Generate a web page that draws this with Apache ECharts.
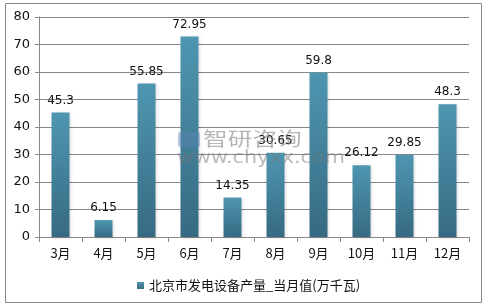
<!DOCTYPE html>
<html><head><meta charset="utf-8">
<script src="https://cdn.jsdelivr.net/npm/echarts@6/dist/echarts.min.js"></script>
<style>html,body{margin:0;padding:0;background:#fff}#c{width:492px;height:307px}</style>
</head><body><div id="c"></div>
<script>
var categories = ['3月','4月','5月','6月','7月','8月','9月','10月','11月','12月'];
var values = [45.3, 6.15, 55.85, 72.95, 14.35, 30.65, 59.8, 26.12, 29.85, 48.3];
var seriesName = '北京市发电设备产量_当月值(万千瓦)';
var yTicks = [0, 10, 20, 30, 40, 50, 60, 70, 80];

var chart = echarts.init(document.getElementById('c'));
var font = '"Microsoft YaHei","Noto Sans CJK SC",sans-serif';
chart.setOption({
  animation: false,
  backgroundColor: '#fff',
  graphic: [
    {type:'rect', shape:{x:5.5,y:3.5,width:476,height:299}, style:{fill:'none',stroke:'#888',lineWidth:1}, z:-1},
    {type:'rect', shape:{x:178,y:132,width:22,height:15,r:2}, style:{fill:'rgba(90,130,180,0.45)'}, z:10},
    {type:'text', x:203, y:129, scaleX:1.3, style:{text:'智研咨询', font:'19px "Noto Sans CJK SC"', fill:'rgba(120,120,120,0.55)'}, z:10},
    {type:'text', x:177, y:150, scaleX:1.22, style:{text:'www.chyxx.com', font:'17px "DejaVu Sans"', fill:'rgba(120,120,120,0.5)'}, z:10}
  ],
  legend: {
    data: [seriesName],
    left: 132, top: 274,
    itemWidth: 7, itemHeight: 7, itemGap: 4,
    icon: 'rect',
    textStyle: {fontSize: 13, color: '#111', fontFamily: font}
  },
  grid: {left: 39, right: 23, top: 17, bottom: 70},
  xAxis: {
    type: 'category', data: categories,
    axisLine: {lineStyle: {color: '#888'}},
    axisTick: {show: true, length: 5, lineStyle: {color: '#888'}},
    axisLabel: {fontSize: 13, color: '#111', margin: 10, fontFamily: font}
  },
  yAxis: {
    type: 'value', min: 0, max: 80, interval: 10,
    axisLine: {show: true, lineStyle: {color: '#888'}},
    axisTick: {show: true, length: 4, inside: false, lineStyle: {color:'#888'}},
    splitLine: {lineStyle: {color: '#888', width: 1}},
    axisLabel: {fontSize: 13, color: '#111', margin: 9, fontFamily: 'Verdana, "DejaVu Sans", sans-serif',
      formatter: function(v){ return yTicks.indexOf(v) >= 0 ? String(v) : ''; }}
  },
  series: [{
    name: seriesName, type: 'bar', data: values,
    barWidth: 18,
    itemStyle: {
      color: new echarts.graphic.LinearGradient(0,0,0,1,[{offset:0,color:'#4f96b1'},{offset:1,color:'#366a82'}]),
      shadowColor: 'rgba(0,0,0,0.15)', shadowBlur: 3, shadowOffsetX: 1, shadowOffsetY: 1
    },
    label: {show: true, position: 'top', distance: 6, fontSize: 12, color: '#111', fontFamily: 'Verdana, "DejaVu Sans", sans-serif'}
  }]
});
</script></body></html>
